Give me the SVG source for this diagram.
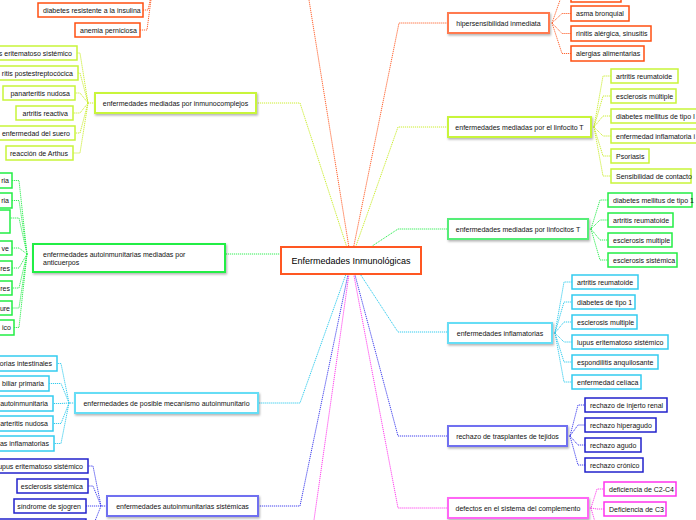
<svg xmlns="http://www.w3.org/2000/svg" width="696" height="520" viewBox="0 0 696 520">
<style>
text{font-family:"Liberation Sans",Arial,sans-serif;font-size:7px;fill:#111}
.m{text-anchor:middle}.e{text-anchor:end}
.n rect{fill:#fff}
.l1 rect{stroke-width:2;filter:url(#sh)}
.ch rect{stroke-width:1.5}
.c path{fill:none;stroke-width:1;stroke-dasharray:1.2 0.8}
.or rect{stroke:#ff4f10}.or1 rect{stroke:#ff7a50}
.yg rect{stroke:#c8f53a}
.gr rect{stroke:#22ee44}.gr1 rect{stroke:#55ee77}
.cy rect{stroke:#33ccf0}.cy1 rect{stroke:#66ddf5}
.bl rect{stroke:#2222cc}.bl1 rect{stroke:#6f6ff0}
.mg rect{stroke:#ff33ee}.mg1 rect{stroke:#ff66f5}
</style>
<defs>
<filter id="sh" x="-10%" y="-30%" width="130%" height="180%"><feDropShadow dx="1" dy="1.5" stdDeviation="0.8" flood-color="#000" flood-opacity="0.3"/></filter>
</defs>
<rect width="696" height="520" fill="#fff"/>
<g id="connectors" class="c">
<g stroke="#ff6633">
<path d="M351,260 L309,0"/>
<path d="M351,260 L399,23 H448"/>
<path d="M552,23 L562,-5.5 H571 M552,23 L562,13.5 H571 M552,23 L562,33.5 H571 M552,23 L562,53.5 H571"/>
<path d="M143,10 H148 L152,-8 M140,30 H147 L152,-8"/>
</g>
<g stroke="#ccee33">
<path d="M351,260 L300,103 H256"/>
<path d="M351,260 L398,127 H448"/>
<path d="M95,103 H88 L80,53 H77 M88,103 L80,73 H78 M88,103 L80,93 H75 M88,103 L80,113 H73 M88,103 L80,133 H75 M88,103 L80,153 H73"/>
<path d="M591,127 H594 L603,76 H611 M594,127 L603,96 H611 M594,127 L603,116 H611 M594,127 L603,136 H611 M594,127 L603,156 H611 M594,127 L603,176 H611"/>
</g>
<g stroke="#33ee55">
<path d="M281,254 H225"/>
<path d="M351,260 L398,229 H448"/>
<path d="M588,229 H591 L600,200 H608 M591,229 L600,220 H608 M591,229 L600,240 H608 M591,229 L600,260 H608"/>
<path d="M27,254 L19,180.5 H12 M27,254 L19,200.5 H12 M27,254 L19,218 H7 M27,254 L19,248 H12 M27,254 L19,268 H12 M27,254 L19,288 H12 M27,254 L19,308 H12 M27,254 L19,327.5 H14"/>
</g>
<g stroke="#33ccee">
<path d="M351,260 L398,332 H448"/>
<path d="M351,260 L300,403 H258"/>
<path d="M552,333 H555 L564,282 H572 M555,333 L564,302 H572 M555,333 L564,322 H572 M555,333 L564,342 H572 M555,333 L564,362 H572 M555,333 L564,382 H572"/>
<path d="M75,403 H69 L61,363.5 H57 M69,403 L61,383.5 H49 M69,403 L61,403.5 H53 M69,403 L61,423.5 H53 M69,403 L61,443.5 H54"/>
</g>
<g stroke="#4444ee">
<path d="M351,260 L398,436 H448"/>
<path d="M351,260 L300,506 H258"/>
<path d="M567,436 H570 L578,405 H585 M570,436 L578,425 H585 M570,436 L578,445 H585 M570,436 L578,465 H585"/>
<path d="M107,506 H101 L93,466 H88 M101,506 L93,486 H88 M101,506 L93,506 H86 M101,506 L93,526 H86"/>
</g>
<g stroke="#ff44ee">
<path d="M351,260 L398,508 H448"/>
<path d="M351,260 L314,520"/>
<path d="M588,508 H591 L597,489 H604 M591,508 L597,509 H604 M591,508 L597,529 H604"/>
</g>
</g>
<g id="center" class="n"><rect x="281" y="247" width="140" height="27" stroke="#ff5722" stroke-width="2"/><text class="m" x="351" y="263.5" style="font-size:9px;fill:#000">Enfermedades Inmunológicas</text></g>
<g id="hipersensibilidad" class="n l1 or1"><rect x="448" y="13" width="101" height="20"/><text class="m" x="498.5" y="25.5">hipersensibilidad inmediata</text></g>
<g id="hip-top" class="n ch or"><rect x="571" y="-13" width="50" height="15"/></g>
<g id="asma" class="n ch or"><rect x="571" y="6" width="58" height="15"/><text x="576" y="16">asma bronquial</text></g>
<g id="rinitis" class="n ch or"><rect x="571" y="26" width="80" height="15"/><text x="576" y="36">rinitis alérgica, sinusitis</text></g>
<g id="alergias" class="n ch or"><rect x="571" y="46" width="73" height="15"/><text x="576" y="56">alergias alimentarias</text></g>
<g id="diabetes-ri" class="n ch or"><rect x="38" y="3" width="105" height="14"/><text x="43" y="12.5">diabetes resistente a la insulina</text></g>
<g id="anemia" class="n ch or"><rect x="75" y="23" width="65" height="14"/><text x="80" y="32.5">anemia perniciosa</text></g>
<g id="inmunocomplejos" class="n l1 yg"><rect x="95" y="93" width="161" height="20"/><text class="m" x="175.5" y="105.5">enfermedades mediadas por inmunocomplejos</text></g>
<g id="ic1" class="n ch yg"><rect x="-20" y="46" width="97" height="14"/><text class="e" x="72" y="55.5">s eritematoso sistémico</text></g>
<g id="ic2" class="n ch yg"><rect x="-20" y="66" width="98" height="14"/><text class="e" x="73" y="75.5">ritis postestreptocócica</text></g>
<g id="ic3" class="n ch yg"><rect x="3" y="86" width="72" height="14"/><text class="e" x="70" y="95.5">panarteritis nudosa</text></g>
<g id="ic4" class="n ch yg"><rect x="16" y="106" width="57" height="14"/><text class="e" x="68" y="115.5">artritis reactiva</text></g>
<g id="ic5" class="n ch yg"><rect x="-2" y="126" width="77" height="14"/><text class="e" x="70" y="135.5">enfermedad del suero</text></g>
<g id="ic6" class="n ch yg"><rect x="6" y="146" width="67" height="14"/><text class="e" x="68" y="155.5">reacción de Arthus</text></g>
<g id="linfocito" class="n l1 yg"><rect x="448" y="117" width="143" height="20"/><text class="m" x="519.5" y="129.5">enfermedades mediadas por el linfocito T</text></g>
<g id="lt1" class="n ch yg"><rect x="611" y="69" width="67" height="14"/><text x="616" y="78.5">artritis reumatoide</text></g>
<g id="lt2" class="n ch yg"><rect x="611" y="89" width="65" height="14"/><text x="616" y="98.5">esclerosis múltiple</text></g>
<g id="lt3" class="n ch yg"><rect x="611" y="109" width="90" height="14"/><text x="616" y="118.5">diabetes mellitus de tipo I</text></g>
<g id="lt4" class="n ch yg"><rect x="611" y="129" width="90" height="14"/><text x="616" y="138.5">enfermedad inflamatoria i</text></g>
<g id="lt5" class="n ch yg"><rect x="611" y="149" width="38" height="14"/><text x="616" y="158.5">Psoriasis</text></g>
<g id="lt6" class="n ch yg"><rect x="611" y="169" width="80" height="14"/><text x="616" y="178.5">Sensibilidad de contacto</text></g>
<g id="linfocitos" class="n l1 gr1"><rect x="448" y="219" width="140" height="20"/><text class="m" x="518" y="231.5">enfermedades mediadas por linfocitos T</text></g>
<g id="lts1" class="n ch gr"><rect x="608" y="193" width="84" height="14"/><text x="613" y="202.5">diabetes mellitus de tipo 1</text></g>
<g id="lts2" class="n ch gr"><rect x="608" y="213" width="65" height="14"/><text x="613" y="222.5">artritis reumatoide</text></g>
<g id="lts3" class="n ch gr"><rect x="608" y="233" width="64" height="14"/><text x="613" y="242.5">esclerosis multiple</text></g>
<g id="lts4" class="n ch gr"><rect x="608" y="253" width="69" height="14"/><text x="613" y="262.5">esclerosis sistémica</text></g>
<g id="anticuerpos" class="n l1 gr"><rect x="33" y="244" width="192" height="28"/><text x="43" y="256.5">enfermedades autoinmunitarias mediadas por</text><text x="43" y="264.5">anticuerpos</text></g>
<g id="ac1" class="n ch gr"><rect x="-20" y="173" width="32" height="15"/><text class="e" x="9" y="183">ria</text></g>
<g id="ac2" class="n ch gr"><rect x="-20" y="193" width="32" height="15"/><text class="e" x="9" y="203">ria</text></g>
<g id="ac3" class="n ch gr"><rect x="-20" y="210" width="30" height="23"/></g>
<g id="ac4" class="n ch gr"><rect x="-20" y="241" width="32" height="14"/><text class="e" x="9" y="250.5">ve</text></g>
<g id="ac5" class="n ch gr"><rect x="-20" y="261" width="32" height="14"/><text class="e" x="10" y="270.5">res</text></g>
<g id="ac6" class="n ch gr"><rect x="-20" y="281" width="32" height="14"/><text class="e" x="10" y="290.5">res</text></g>
<g id="ac7" class="n ch gr"><rect x="-20" y="301" width="32" height="14"/><text class="e" x="10" y="310.5">ure</text></g>
<g id="ac8" class="n ch gr"><rect x="-20" y="320" width="34" height="15"/><text class="e" x="11" y="330">ico</text></g>
<g id="inflamatorias" class="n l1 cy1"><rect x="448" y="323" width="104" height="20"/><text class="m" x="500" y="335.5">enfermedades inflamatorias</text></g>
<g id="in1" class="n ch cy"><rect x="572" y="275" width="66" height="14"/><text x="577" y="284.5">artritis reumatoide</text></g>
<g id="in2" class="n ch cy"><rect x="572" y="295" width="63" height="14"/><text x="577" y="304.5">diabetes de tipo 1</text></g>
<g id="in3" class="n ch cy"><rect x="572" y="315" width="65" height="14"/><text x="577" y="324.5">esclerosis multiple</text></g>
<g id="in4" class="n ch cy"><rect x="572" y="335" width="96" height="14"/><text x="577" y="344.5">lupus eritematoso sistémico</text></g>
<g id="in5" class="n ch cy"><rect x="572" y="355" width="86" height="14"/><text x="577" y="364.5">espondilitis anquilosante</text></g>
<g id="in6" class="n ch cy"><rect x="572" y="375" width="69" height="14"/><text x="577" y="384.5">enfermedad celíaca</text></g>
<g id="posible" class="n l1 cy1"><rect x="75" y="393" width="183" height="20"/><text class="m" x="166.5" y="405.5">enfermedades de posible mecanismo autoinmunitario</text></g>
<g id="pm1" class="n ch cy"><rect x="-20" y="356" width="77" height="15"/><text class="e" x="52" y="366">torias intestinales</text></g>
<g id="pm2" class="n ch cy"><rect x="-20" y="376" width="69" height="15"/><text class="e" x="44" y="386">biliar primaria</text></g>
<g id="pm3" class="n ch cy"><rect x="-20" y="396" width="73" height="15"/><text class="e" x="48" y="406">autoinmunitaria</text></g>
<g id="pm4" class="n ch cy"><rect x="-20" y="416" width="73" height="15"/><text class="e" x="48" y="426">arteritis nudosa</text></g>
<g id="pm5" class="n ch cy"><rect x="-20" y="436" width="74" height="15"/><text class="e" x="49" y="446">as inflamatorias</text></g>
<g id="rechazo" class="n l1 bl1"><rect x="448" y="426" width="119" height="20"/><text class="m" x="507.5" y="438.5">rechazo de trasplantes de tejidos</text></g>
<g id="rc1" class="n ch bl"><rect x="585" y="398" width="82" height="14"/><text x="590" y="407.5">rechazo de injerto renal</text></g>
<g id="rc2" class="n ch bl"><rect x="585" y="418" width="71" height="14"/><text x="590" y="427.5">rechazo hiperagudo</text></g>
<g id="rc3" class="n ch bl"><rect x="585" y="438" width="56" height="14"/><text x="590" y="447.5">rechazo agudo</text></g>
<g id="rc4" class="n ch bl"><rect x="585" y="458" width="58" height="14"/><text x="590" y="467.5">rechazo crónico</text></g>
<g id="sistemicas" class="n l1 bl1"><rect x="107" y="496" width="151" height="20"/><text class="m" x="182.5" y="508.5">enfermedades autoinmunitarias sistémicas</text></g>
<g id="si1" class="n ch bl"><rect x="-20" y="459" width="108" height="14"/><text class="e" x="83" y="468.5">upus eritematoso sistémico</text></g>
<g id="si2" class="n ch bl"><rect x="17" y="479" width="71" height="14"/><text class="e" x="83" y="488.5">esclerosis sistémica</text></g>
<g id="si3" class="n ch bl"><rect x="14" y="499" width="72" height="14"/><text class="e" x="81" y="508.5">síndrome de sjogren</text></g>
<g id="si4" class="n ch bl"><rect x="-20" y="519" width="106" height="14"/></g>
<g id="complemento" class="n l1 mg1"><rect x="448" y="498" width="140" height="20"/><text class="m" x="518" y="510.5">defectos en el sistema del complemento</text></g>
<g id="cm1" class="n ch mg"><rect x="604" y="482" width="72" height="14"/><text x="609" y="491.5">deficiencia de C2-C4</text></g>
<g id="cm2" class="n ch mg"><rect x="604" y="502" width="62" height="14"/><text x="609" y="511.5">Deficiencia de C3</text></g>
</svg>
